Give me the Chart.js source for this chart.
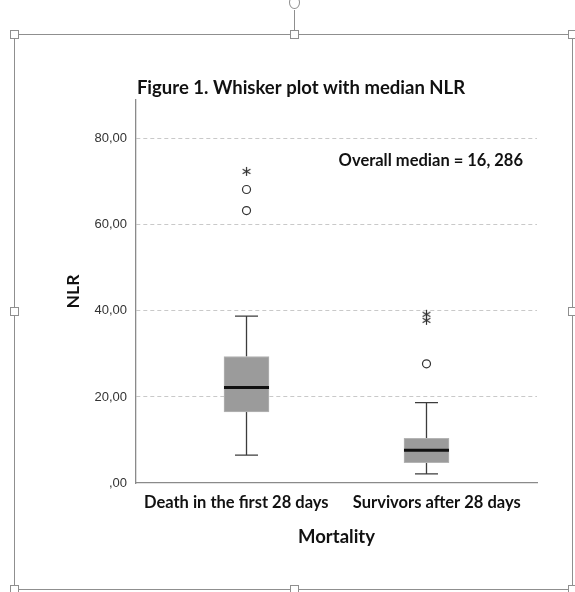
<!DOCTYPE html>
<html>
<head>
<meta charset="utf-8">
<title>NLR whisker plot</title>
<script src="https://cdn.jsdelivr.net/npm/chart.js@4.4.0/dist/chart.umd.min.js"></script>
<style>
  body { margin: 0; background: #fff; }
  #wrap { position: relative; width: 575px; height: 592px; overflow: hidden; }
  .frame { position: absolute; left: 14px; top: 34px; width: 559px; height: 556px; border: 1px solid #8f8f8f; box-sizing: border-box; }
  .handle { position: absolute; width: 9px; height: 9px; background: #fff; border: 1px solid #8f8f8f; box-sizing: border-box; }
  .rot-line { position: absolute; left: 294px; top: 10px; width: 1px; height: 24px; background: #8f8f8f; }
  .rot-knob { position: absolute; left: 289px; top: -4px; width: 11px; height: 13px; border: 1px solid #8f8f8f; border-radius: 50%; box-sizing: border-box; background: #fff; }
  canvas { position: absolute; left: 0; top: 0; }
</style>
</head>
<body>
<div id="wrap">
  <div class="frame"></div>
  <div class="rot-line"></div>
  <div class="rot-knob"></div>
  <div class="handle" style="left:10px;top:30px"></div>
  <div class="handle" style="left:290px;top:30px"></div>
  <div class="handle" style="left:568px;top:30px"></div>
  <div class="handle" style="left:10px;top:307px"></div>
  <div class="handle" style="left:568px;top:307px"></div>
  <div class="handle" style="left:10px;top:585px"></div>
  <div class="handle" style="left:290px;top:585px"></div>
  <div class="handle" style="left:568px;top:585px"></div>
  <canvas id="myChart" width="575" height="592"></canvas>
</div>
<script>
// box plot summary per group
const categories = ["Death in the first 28 days", "Survivors after 28 days"];
const whiskerLow = [6.5, 2.1];
const q1 = [16.5, 4.7];
const medians = [22.2, 7.6];
const q3 = [29.4, 10.4];
const whiskerHigh = [38.8, 18.7];

// outliers: group index, value, kind (circle = outlier, star = extreme)
const outlierGroup = [0, 0, 0, 1, 1, 1];
const outlierValues = [72.4, 68.2, 63.3, 39.2, 37.8, 27.7];
const outlierKinds = ["star", "circle", "circle", "star", "star", "circle"];

const yTicks = [0, 20, 40, 60, 80];
const overallMedian = "16, 286";

const boldFont = "Lato";

// little asterisk used for extreme values
const starImg = document.createElement("canvas");
starImg.width = 11;
starImg.height = 11;
(function () {
  const c = starImg.getContext("2d");
  c.strokeStyle = "#333";
  c.lineWidth = 1.2;
  c.translate(5.5, 5.5);
  for (let i = 0; i < 3; i++) {
    const a = Math.PI / 2 + (i * Math.PI) / 3;
    c.beginPath();
    c.moveTo(Math.cos(a) * 4.5, Math.sin(a) * 4.5);
    c.lineTo(-Math.cos(a) * 4.5, -Math.sin(a) * 4.5);
    c.stroke();
  }
})();

const whiskerPlugin = {
  id: "whiskers",
  beforeDatasetsDraw(chart) {
    const ctx = chart.ctx;
    const xs = chart.scales.x2;
    const ys = chart.scales.y;
    ctx.save();
    ctx.strokeStyle = "#3c3c3c";
    ctx.lineWidth = 1.3;
    categories.forEach((c, i) => {
      const x = xs.getPixelForValue(i);
      [[q3[i], whiskerHigh[i]], [q1[i], whiskerLow[i]]].forEach(([from, to]) => {
        const y1 = ys.getPixelForValue(from);
        const y2 = ys.getPixelForValue(to);
        ctx.beginPath();
        ctx.moveTo(x, y1);
        ctx.lineTo(x, y2);
        ctx.moveTo(x - 11.5, y2);
        ctx.lineTo(x + 11.5, y2);
        ctx.stroke();
      });
    });
    ctx.restore();
  },
  afterDatasetsDraw(chart) {
    const ctx = chart.ctx;
    const xs = chart.scales.x2;
    const ys = chart.scales.y;
    ctx.save();
    ctx.strokeStyle = "#111";
    ctx.lineWidth = 3;
    medians.forEach((m, i) => {
      const x = xs.getPixelForValue(i);
      const y = ys.getPixelForValue(m);
      ctx.beginPath();
      ctx.moveTo(x - 22.5, y);
      ctx.lineTo(x + 22.5, y);
      ctx.stroke();
    });
    ctx.restore();
  },
  afterDraw(chart) {
    const ctx = chart.ctx;
    ctx.save();
    ctx.fillStyle = "#111";
    ctx.textBaseline = "middle";
    ctx.font = "bold 18.5px " + boldFont;
    ctx.textAlign = "center";
    ctx.fillText("Figure 1. Whisker plot with median NLR", 301, 88);
    ctx.font = "bold 16.5px " + boldFont;
    ctx.textAlign = "right";
    ctx.fillText("Overall median = " + overallMedian, 523, 161);
    ctx.restore();
  }
};

const boxData = categories.map((c, i) => ({ x: i, y: [q1[i], q3[i]] }));
const outlierData = outlierValues.map((v, i) => ({ x: outlierGroup[i], y: v }));

const ctx = document.getElementById("myChart").getContext("2d");
const chart = new Chart(ctx, {
  type: "bar",
  data: {
    labels: categories,
    datasets: [
      {
        label: "NLR",
        xAxisID: "x2",
        data: boxData,
        backgroundColor: "#9b9b9b",
        borderColor: "#b4b4b4",
        borderWidth: 1,
        borderSkipped: false,
        barThickness: 45
      },
      {
        type: "scatter",
        label: "Outliers",
        xAxisID: "x2",
        data: outlierData,
        pointStyle: outlierKinds.map(k => (k === "star" ? starImg : "circle")),
        pointRadius: 4,
        pointBackgroundColor: "#fff",
        pointBorderColor: "#333",
        pointBorderWidth: 1.2
      }
    ]
  },
  options: {
    responsive: false,
    animation: false,
    layout: { padding: { left: 0, right: 38, top: 100, bottom: 0 } },
    plugins: {
      legend: { display: false },
      title: { display: false },
      tooltip: { enabled: false }
    },
    scales: {
      x: {
        type: "category",
        offset: true,
        grid: { display: false, drawTicks: false },
        border: { color: "#8a8a8a", width: 1.3 },
        ticks: {
          color: "#111",
          padding: 10,
          maxRotation: 0,
          autoSkip: false,
          font: { family: boldFont, size: 16.5, weight: "bold" }
        },
        title: {
          display: true,
          text: "Mortality",
          color: "#111",
          font: { family: boldFont, size: 18.5, weight: "bold" },
          padding: { top: 12, bottom: 44 }
        },
        afterFit: s => { s.height = 109; }
      },
      x2: {
        type: "linear",
        display: false,
        offset: false,
        min: -0.614,
        max: 1.614
      },
      y: {
        min: 0,
        max: 89,
        afterBuildTicks: s => { s.ticks = yTicks.map(v => ({ value: v })); },
        afterFit: s => { s.width = 136; },
        grid: {
          drawTicks: false,
          color: c => (c.tick && c.tick.value === 0 ? "rgba(0,0,0,0)" : "#c9c9c9")
        },
        border: { color: "#8a8a8a", width: 1.3, dash: [4, 3] },
        ticks: {
          color: "#333",
          padding: 9,
          font: { family: "Liberation Sans", size: 13 },
          callback: v => (v === 0 ? ",00" : v.toFixed(2).replace(".", ","))
        },
        title: {
          display: true,
          text: "NLR",
          color: "#111",
          font: { family: boldFont, size: 17.5, weight: "bold" },
          padding: { top: 63, bottom: 0 }
        }
      }
    }
  },
  plugins: [whiskerPlugin]
});
</script>
</body>
</html>
